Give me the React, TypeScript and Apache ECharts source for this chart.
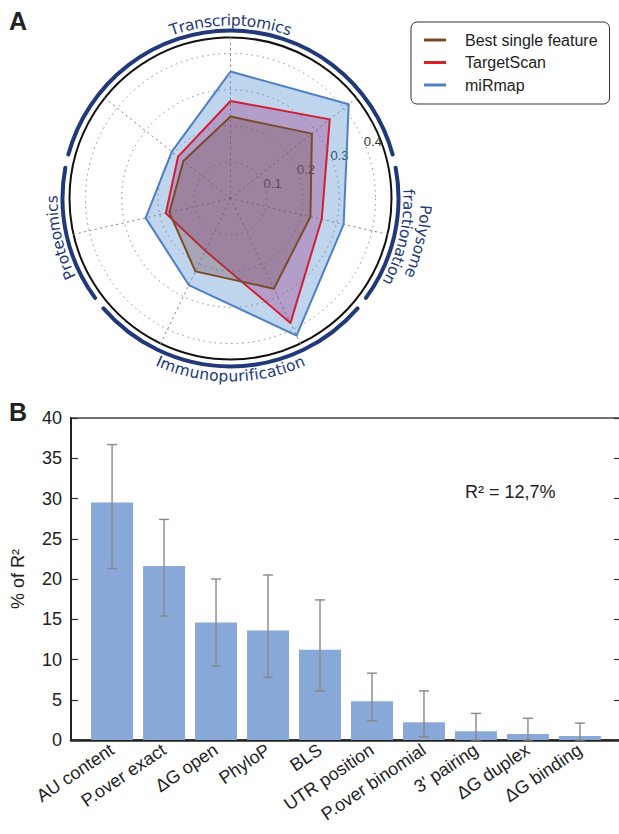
import React, { useEffect, useRef } from 'react';
import * as echarts from 'echarts';

const W = 619;
const H = 834;
const SANS = '"Liberation Sans", Arial, sans-serif';
const DEJAVU = '"DejaVu Sans", sans-serif';

// ---------- Panel A: radar ----------
const seriesNames = ['Best single feature', 'TargetScan', 'miRmap'];
// values per radar axis, starting at the top axis and going counter-clockwise
const bestSingle = [0.226, 0.166, 0.173, 0.223, 0.276, 0.226, 0.287];
const targetScan = [0.269, 0.185, 0.183, 0.16, 0.381, 0.258, 0.35];
const miRmap = [0.35, 0.207, 0.24, 0.265, 0.42, 0.32, 0.417];
const radarMax = 0.444;
const radarInterval = 0.1;
// groups of radar axes (first axis index, number of axes), labelled outside the circle
const groupLabels = [['Transcriptomics'], ['Proteomics'], ['Immunopurification'], ['Polysome', 'fractionation']];
const groupFirstAxis = [-1, 2, 3, 5];
const groupAxisCount = [3, 1, 2, 1];
const groupInward = [false, false, true, false];

// ---------- Panel B: bars ----------
const categories = ['AU content', 'P.over exact', 'ΔG open', 'PhyloP', 'BLS', 'UTR position', 'P.over binomial', "3' pairing", 'ΔG duplex', 'ΔG binding'];
const shareR2 = [29.5, 21.6, 14.6, 13.6, 11.2, 4.8, 2.2, 1.1, 0.75, 0.5];
const errHigh = [36.7, 27.4, 20.0, 20.5, 17.4, 8.3, 6.1, 3.3, 2.7, 2.1];
const errLow = [21.3, 15.4, 9.2, 7.8, 6.1, 2.4, 0.4, 0, 0, 0];
const yTicks = { min: 0, max: 40, interval: 5 };
const r2Text = 'R² = 12,7%';

const CX = 230.5;
const CY = 198.5;
const R = 161;
const NAVY = '#21397a';

function curvedText(text: string, radius: number, centerDeg: number, inward: boolean, size: number) {
  const canvas = document.createElement('canvas');
  const ctx = canvas.getContext('2d') as CanvasRenderingContext2D;
  ctx.font = `${size}px "DejaVu Sans"`;
  const chars = Array.from(text);
  const widths = chars.map((c) => ctx.measureText(c).width);
  const total = widths.reduce((a, b) => a + b, 0);
  const c0 = (centerDeg * Math.PI) / 180;
  const out: any[] = [];
  let acc = 0;
  chars.forEach((ch, i) => {
    const mid = acc + widths[i] / 2;
    acc += widths[i];
    const off = (mid - total / 2) / radius;
    const th = inward ? c0 + off : c0 - off;
    out.push({
      type: 'text',
      x: CX + radius * Math.cos(th),
      y: CY - radius * Math.sin(th),
      rotation: inward ? th + Math.PI / 2 : th - Math.PI / 2,
      style: { text: ch, fill: NAVY, fontSize: size, fontFamily: DEJAVU, align: 'center', verticalAlign: 'middle' },
      silent: true,
    });
  });
  return out;
}

export default function App() {
  const ref = useRef<HTMLDivElement>(null);
  useEffect(() => {
    if (!ref.current) return;
    const chart = echarts.init(ref.current, null, { renderer: 'svg' });
    const nAxes = miRmap.length;
    const step = 360 / nAxes;
    const axisAngle = (i: number) => 90 + i * step;
    const gap = 2.3;

    const graphics: any[] = [];
    groupLabels.forEach((lines, g) => {
      const a0 = axisAngle(groupFirstAxis[g]) - step / 2 + gap;
      const a1 = axisAngle(groupFirstAxis[g] + groupAxisCount[g] - 1) + step / 2 - gap;
      graphics.push({
        type: 'arc',
        shape: { cx: CX, cy: CY, r: 168, startAngle: (-a1 * Math.PI) / 180, endAngle: (-a0 * Math.PI) / 180, clockwise: true },
        style: { stroke: NAVY, lineWidth: 4, fill: 'none', lineCap: 'round' },
        silent: true,
      });
      const mid = (a0 + a1) / 2;
      lines.forEach((line, li) => {
        const rr = 178 + (lines.length - 1 - li) * 17;
        graphics.push(...curvedText(line, rr, mid, groupInward[g], 15.5));
      });
    });
    graphics.push(
      { type: 'text', x: 9, y: 8, style: { text: 'A', fontSize: 25, fontWeight: 'bold', fontFamily: SANS, fill: '#222' } },
      { type: 'text', x: 9, y: 399, style: { text: 'B', fontSize: 25, fontWeight: 'bold', fontFamily: SANS, fill: '#222' } },
      { type: 'text', x: 465, y: 492, style: { text: r2Text, fontSize: 18, fontFamily: SANS, fill: '#222', verticalAlign: 'middle' } }
    );

    const radarDefs = [
      { name: seriesNames[2], values: miRmap, line: '#4f7fc4', area: 'rgba(72,135,206,0.35)' },
      { name: seriesNames[1], values: targetScan, line: '#dc1e27', area: 'rgba(151,33,118,0.3)' },
      { name: seriesNames[0], values: bestSingle, line: '#7a4a22', area: 'rgba(119,79,82,0.35)' },
    ];

    const option: any = {
      animation: false,
      textStyle: { fontFamily: SANS },
      legend: {
        orient: 'vertical',
        left: 411,
        top: 22,
        padding: [10, 12, 11, 13],
        itemGap: 6.5,
        itemWidth: 22,
        itemHeight: 3,
        icon: 'rect',
        borderColor: '#333',
        borderWidth: 1,
        borderRadius: 6,
        textStyle: { fontSize: 16, fontFamily: SANS, color: '#222', padding: [0, 0, 0, 14] },
        data: seriesNames,
      },
      radar: {
        center: [CX, CY],
        radius: R,
        startAngle: 90,
        shape: 'circle',
        splitNumber: 4,
        indicator: miRmap.map(() => ({ name: '', min: 0, max: radarMax })),
        axisName: { show: false },
        axisLine: { lineStyle: { color: '#888', type: [1.5, 4], width: 1 } },
        splitLine: { show: false },
        splitArea: { show: false },
        axisTick: { show: false },
        axisLabel: { show: false },
      },
      polar: { center: [CX, CY], radius: R },
      angleAxis: {
        type: 'value',
        min: 0,
        max: 360,
        startAngle: 22.8,
        axisLine: { show: true, lineStyle: { color: '#111', width: 2 } },
        axisTick: { show: false },
        axisLabel: { show: false },
        splitLine: { show: false },
      },
      radiusAxis: {
        type: 'value',
        min: 0,
        max: radarMax,
        interval: radarInterval,
        axisLine: { show: false },
        axisTick: { show: false },
        axisLabel: { color: '#333', fontSize: 13, inside: true, margin: 1, align: 'left', showMinLabel: false, showMaxLabel: false, formatter: (v: number) => v.toFixed(1) },
        splitLine: { show: true, lineStyle: { color: '#888', type: [1.5, 4], width: 1 } },
      },
      grid: { left: 71, top: 418, right: -2, bottom: 94, outerBoundsMode: 'none', containLabel: false, show: true, borderColor: '#444', borderWidth: 1.5, backgroundColor: 'transparent' },
      xAxis: {
        type: 'value',
        min: -0.79,
        max: categories.length - 1 + 0.79,
        axisLine: { show: true, onZero: false, lineStyle: { color: '#222', width: 2.5 } },
        axisTick: { show: false },
        splitLine: { show: false },
        axisLabel: {
          customValues: categories.map((_, i) => i),
          formatter: (v: number) => categories[Math.round(v)] ?? '',
          rotate: 34,
          fontSize: 18,
          color: '#222',
          margin: 8,
        },
      },
      yAxis: [
        {
          type: 'value',
          ...yTicks,
          position: 'left',
          axisLine: { show: true, onZero: false, lineStyle: { color: '#222', width: 2 } },
          axisTick: { show: true, inside: true, length: 7, lineStyle: { color: '#333', width: 1.2 } },
          axisLabel: { fontSize: 18, color: '#222', margin: 9 },
          splitLine: { show: false },
          name: '% of R²',
          nameLocation: 'middle',
          nameGap: 44,
          nameRotate: 90,
          nameTextStyle: { fontSize: 18, color: '#222' },
        },
        {
          type: 'value',
          ...yTicks,
          position: 'right',
          axisLine: { show: false, onZero: false },
          axisTick: { show: true, inside: true, length: 7, lineStyle: { color: '#333', width: 1.2 } },
          axisLabel: { show: false },
          splitLine: { show: false },
        },
      ],
      series: [
        ...radarDefs.map((d) => ({
          type: 'radar',
          name: d.name,
          symbol: 'none',
          itemStyle: { color: d.line },
          lineStyle: { color: d.line, width: 2 },
          areaStyle: { color: d.area, opacity: 1 },
          data: [{ name: d.name, value: d.values }],
        })),
        {
          type: 'bar',
          xAxisIndex: 0,
          yAxisIndex: 0,
          barWidth: 42,
          itemStyle: { color: '#88a8d8' },
          data: shareR2.map((v, i) => [i, v]),
        },
        {
          type: 'custom',
          xAxisIndex: 0,
          yAxisIndex: 0,
          z: 5,
          encode: { x: 0, y: [1, 2] },
          data: errLow.map((lo, i) => [i, lo, errHigh[i]]),
          renderItem: (params: any, api: any) => {
            const x = api.value(0);
            const pLo = api.coord([x, api.value(1)]);
            const pHi = api.coord([x, api.value(2)]);
            const hw = 5;
            const st = { stroke: '#888', lineWidth: 1.4 };
            return {
              type: 'group',
              children: [
                { type: 'line', shape: { x1: pLo[0], y1: pLo[1], x2: pHi[0], y2: pHi[1] }, style: st },
                { type: 'line', shape: { x1: pHi[0] - hw, y1: pHi[1], x2: pHi[0] + hw, y2: pHi[1] }, style: st },
                { type: 'line', shape: { x1: pLo[0] - hw, y1: pLo[1], x2: pLo[0] + hw, y2: pLo[1] }, style: st },
              ],
            };
          },
        },
      ],
      graphic: graphics,
    };
    chart.setOption(option);
    return () => chart.dispose();
  }, []);
  return <div ref={ref} style={{ position: 'absolute', left: 0, top: 0, width: W, height: H, background: '#fff' }} />;
}
